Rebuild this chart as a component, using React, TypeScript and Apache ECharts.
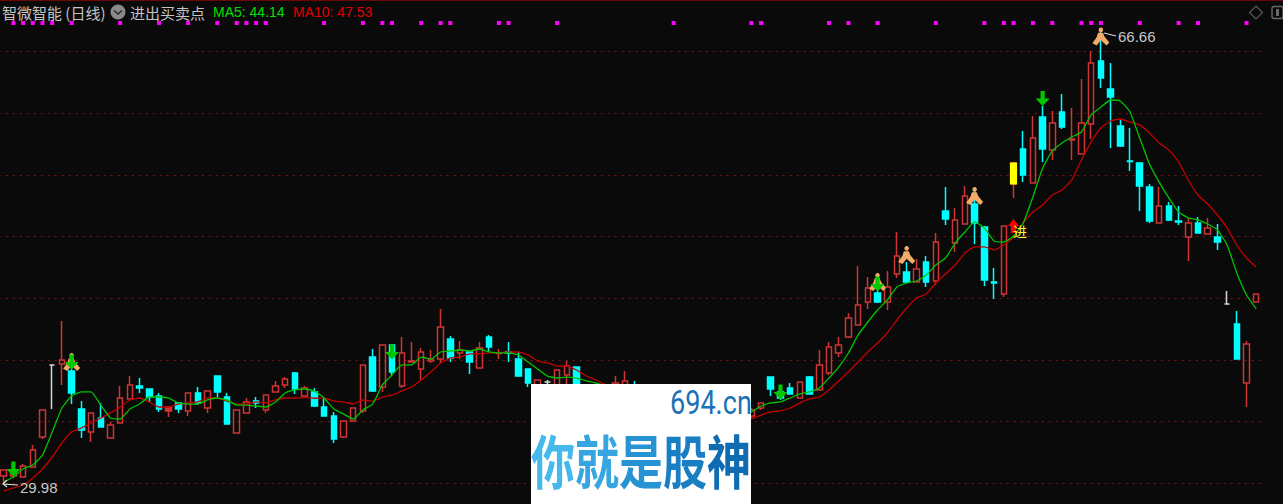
import React, { useEffect, useRef } from "react";
import * as echarts from "echarts";

const upper = [
  31.09,30.84,31.41,32.71,35.95,39.60,40.00,39.11,36.03,35.71,
  35.30,34.73,36.92,37.98,37.89,37.65,37.08,36.19,36.52,37.33,
  37.33,37.49,38.70,37.00,35.95,36.60,36.67,37.16,37.89,38.46,
  38.95,37.73,37.41,36.19,35.46,35.06,36.11,39.60,40.24,41.22,
  41.22,40.57,39.92,40.65,40.08,42.68,41.70,40.81,40.65,40.97,
  41.86,40.57,40.65,40.08,39.27,38.38,38.22,39.19,39.51,39.43,
  37.57,37.41,37.16,38.14,38.30,37.73,37.16,36.92,36.76,36.60,
  36.43,36.27,36.11,35.95,35.79,35.87,35.87,35.95,36.52,38.62,
  37.41,37.73,38.22,38.62,39.60,41.05,41.22,43.40,44.46,45.84,
  45.43,45.92,48.43,47.13,47.38,47.94,49.56,52.08,51.35,53.29,
  52.64,50.78,46.32,50.86,55.97,57.10,57.99,59.69,59.21,60.10,
  57.91,59.21,64.07,64.23,61.96,58.97,56.13,55.97,54.02,52.48,
  52.48,51.27,51.10,51.10,50.70,49.97,44.54,42.92,41.30,45.35,
];
const lower = [
  30.60,30.60,30.52,31.33,33.76,39.60,39.68,37.33,34.33,34.16,
  34.57,33.68,34.90,36.84,37.73,37.00,36.03,35.87,36.03,35.87,
  36.52,36.11,37.41,34.81,34.08,35.71,36.52,35.95,37.41,37.98,
  37.65,37.08,36.27,35.46,33.60,33.76,35.06,35.87,37.49,37.81,
  39.03,37.89,39.84,39.27,39.92,40.08,40.16,40.57,39.84,39.35,
  41.05,40.53,40.57,38.70,38.14,37.41,38.22,37.16,38.79,37.16,
  36.76,36.60,36.52,37.00,37.08,36.60,36.11,35.95,35.79,35.63,
  35.46,35.30,35.14,35.22,35.14,35.38,35.22,35.46,36.11,37.65,
  36.92,37.25,36.92,37.25,37.57,38.95,40.57,41.86,42.84,44.70,
  44.70,44.70,46.97,46.32,46.32,46.32,46.40,51.43,49.48,51.02,
  51.10,46.48,46.24,45.35,54.26,54.99,54.34,57.10,57.02,58.88,
  57.83,56.70,59.13,62.85,61.31,57.34,56.09,54.10,51.27,51.10,
  51.35,51.19,49.97,50.29,50.21,49.56,44.54,40.08,38.14,44.70,
];
const highs = [
  31.09,30.92,31.57,33.11,35.95,39.60,43.16,40.41,36.67,35.71,
  36.52,34.97,37.89,38.70,38.54,37.65,37.33,36.19,36.52,37.33,
  37.81,37.49,38.70,37.33,35.95,36.92,37.00,37.16,38.30,38.62,
  39.03,37.89,37.73,36.92,35.79,35.06,36.11,39.60,40.89,41.22,
  41.22,41.86,41.46,40.97,40.81,44.13,41.95,41.54,40.65,41.46,
  42.03,40.89,41.46,40.65,39.27,38.38,38.38,39.19,39.92,39.43,
  37.73,37.57,37.41,38.70,39.11,38.30,37.41,37.08,36.92,36.76,
  36.60,36.43,36.27,36.11,36.03,36.03,36.03,36.11,36.52,38.62,
  37.73,38.14,38.22,38.70,40.81,41.46,41.86,43.81,47.62,46.73,
  46.24,47.21,50.37,47.94,48.19,48.43,50.29,54.02,52.32,54.10,
  53.78,50.86,47.46,50.86,55.97,58.56,59.77,60.58,60.18,61.56,
  60.42,62.77,65.04,66.66,64.07,59.45,58.80,55.97,54.26,54.02,
  52.81,52.48,51.51,51.59,51.51,51.02,45.59,43.98,41.54,45.35,
];
const lows = [
  29.98,30.44,30.52,31.33,33.60,36.03,37.98,36.43,33.68,33.36,
  34.57,33.68,34.90,36.84,37.33,36.60,35.79,35.38,35.71,35.46,
  36.35,35.71,37.00,34.81,34.08,35.71,36.11,35.71,37.41,37.73,
  37.25,37.08,36.19,35.46,33.28,33.68,35.06,35.71,37.41,37.41,
  38.79,37.73,39.84,38.38,39.76,39.76,39.84,40.08,38.87,39.35,
  40.65,40.08,39.84,38.62,37.81,37.16,37.41,37.08,38.05,36.92,
  36.43,36.35,36.27,36.76,36.76,36.27,35.79,35.71,35.46,35.38,
  35.14,35.06,34.81,34.89,34.81,34.97,35.06,35.30,35.95,37.08,
  36.76,37.25,36.92,37.25,37.57,38.79,40.24,41.78,42.84,44.13,
  44.62,44.05,46.65,46.24,46.32,45.92,46.08,50.94,48.75,51.02,
  49.40,46.00,44.94,45.11,53.13,54.42,54.34,56.05,56.21,58.72,
  56.21,56.70,57.91,62.04,57.18,57.26,55.32,52.08,51.10,51.10,
  51.27,50.94,48.03,50.29,50.21,48.92,44.54,40.08,36.19,44.70,
];
const ma5 = [
  30.11,30.52,31.17,31.49,32.30,34.16,36.11,37.08,37.41,37.41,
  36.35,35.30,35.22,36.03,36.43,37.00,37.00,36.92,36.52,36.43,
  36.43,36.76,36.92,36.76,36.35,36.35,36.27,36.19,36.60,37.33,
  37.57,37.65,37.49,36.92,36.03,35.63,35.22,35.95,36.43,37.98,
  38.79,39.60,39.60,40.24,40.08,40.65,40.73,40.81,40.73,40.89,
  40.65,40.57,40.57,40.41,39.84,39.27,38.70,38.54,38.62,38.54,
  38.30,38.14,37.89,37.73,37.41,37.08,36.84,36.52,36.27,36.11,
  35.87,35.71,35.46,35.38,35.30,35.38,35.54,35.79,36.27,36.52,
  36.60,36.92,37.25,37.41,37.73,38.54,39.43,40.57,42.03,43.08,
  44.05,44.86,45.92,46.24,46.40,46.89,47.70,48.27,49.48,50.37,
  51.19,50.70,49.64,49.56,50.05,51.10,53.21,55.56,56.94,57.59,
  58.07,58.48,59.86,60.50,61.07,60.99,60.10,57.99,55.88,54.42,
  53.13,52.00,51.51,51.35,51.02,50.54,49.32,47.05,45.27,44.14,
];
const ma10 = [
  29.38,29.63,29.87,30.44,31.17,32.14,33.28,34.16,34.49,34.90,
  35.30,35.71,36.19,36.76,36.92,36.60,36.19,36.19,36.43,36.52,
  36.60,36.92,36.92,36.67,36.43,36.43,36.60,36.52,36.76,36.92,
  36.92,36.95,36.90,36.92,36.67,36.60,36.43,36.76,36.67,37.00,
  37.16,37.49,37.81,38.38,39.03,39.76,40.16,40.24,40.49,40.49,
  40.57,40.57,40.65,40.65,40.41,39.92,39.76,39.51,39.51,39.19,
  38.70,38.38,37.98,37.65,37.33,37.08,36.76,36.52,36.27,36.03,
  35.79,35.63,35.46,35.30,35.22,35.14,35.14,35.22,35.54,35.79,
  35.87,36.11,36.52,36.84,37.00,37.57,38.30,39.03,39.84,40.65,
  41.38,42.19,43.24,44.21,45.03,45.35,46.24,46.97,47.70,48.67,
  49.16,49.16,48.92,49.32,49.97,51.10,51.99,52.56,53.37,53.78,
  54.59,56.21,57.67,58.80,59.37,59.53,59.29,59.05,58.40,57.59,
  57.02,56.05,54.59,53.37,52.64,51.75,50.70,49.32,48.27,47.53,
];
const fallingDays = [7,8,10,14,15,16,18,20,22,23,26,30,32,33,34,38,40,46,48,50,52,53,54,59,60,61,65,66,68,70,72,75,79,80,81,83,90,93,95,97,100,101,102,105,107,109,113,114,115,116,117,118,120,121,123,125,127];
const whiteDays = [5,56,126];
const solidRedDays = [17];
const yellowDay = 104;
const magentaDays = [1,2,3,4,5,7,12,16,19,22,24,25,26,27,33,37,39,40,43,45,46,51,52,57,69,77,78,85,87,90,96,101,103,104,106,108,111,112,113,117,121,123,128];
const stripLevel = 67.31;
const buyArrows: [number, number][] = [[1,31.17],[7,39.84],[40,40.65],[80,37.41],[90,46.16],[107,61.19]];
const runners: [number, number][] = [[7,39.84],[90,46.32],[93,48.51],[100,53.29],[113,66.22]];
const entryArrows: [number, number][] = [[104,50.86]];
const logoChars = ["你", "就", "是", "股", "神"];
const logoColors = ["#45b9ec", "#36a5e0", "#2693d3", "#1a7fc2", "#0f6cb2"];

const RED = "#cf3535";
const CYAN = "#00ffff";
const ARROW_DOWN = "path://M3.5 0 H6.5 V6 H10 L5 12 L0 6 H3.5 Z";
const ARROW_UP = "path://M5 0 L10 6 H7.5 V12 H2.5 V6 H0 Z";
const RUNNER = "path://M12 0 A3.2 3.2 0 1 1 11.99 0 Z M8 7 L15 7 L17 12 L24 20 L20 24 L12 17 L6 24 L0 21 L6 13 Z";

export default function App() {
  const ref = useRef<HTMLDivElement>(null);
  useEffect(() => {
    document.body.style.margin = "0";
    document.body.style.background = "#0a0a0a";
    const chart = echarts.init(ref.current!, undefined, { renderer: "svg" });
    const falling = new Set(fallingDays);
    const candles = upper.map((u, i) => {
      const value = falling.has(i) ? [u, lower[i], lows[i], highs[i]] : [lower[i], u, lows[i], highs[i]];
      if (whiteDays.includes(i)) {
        return { value, itemStyle: { color: "#d8d8d8", color0: "#d8d8d8", borderColor: "#d8d8d8", borderColor0: "#d8d8d8" } };
      }
      if (solidRedDays.includes(i)) {
        return { value, itemStyle: { color: RED, color0: RED } };
      }
      return { value };
    });
    const yellowBody = upper.map((u, i) => (i === yellowDay ? [lower[i], u, lower[i], u] : ["-", "-", "-", "-"]));
    const ui = "'Noto Sans CJK SC','Liberation Sans',sans-serif";
    const latin = "'Liberation Sans',Arial,sans-serif";
    const txt = (x: number, y: number, text: string, fill: string, fontSize: number, fontFamily: string) => ({
      type: "text", x, y, z: 20, style: { text, fill, fontSize, fontFamily, verticalAlign: "middle" },
    });
    const scatter = (name: string, data: any[], symbol: string, symbolSize: any, color: string, z: number) => ({
      name, type: "scatter", data, symbol, symbolSize, z, silent: true, itemStyle: { color, opacity: 1 },
    });
    chart.setOption({
      animation: false,
      backgroundColor: "#0a0a0a",
      grid: { left: -1.2, top: -10.2, width: 1262.3, height: 555.3, containLabel: false, outerBoundsMode: "none" },
      xAxis: { type: "category", data: upper.map((_, i) => String(i)), boundaryGap: true, show: false },
      yAxis: {
        type: "value", min: 25, max: 70, interval: 5, position: "right",
        axisLine: { show: false }, axisTick: { show: false }, axisLabel: { show: false },
        splitLine: { show: true, lineStyle: { color: "#7c1616", width: 1, type: [2, 5] } },
      },
      series: [
        {
          name: "K", type: "candlestick", data: candles, barWidth: 6, z: 3,
          itemStyle: { color: "transparent", color0: CYAN, borderColor: RED, borderColor0: CYAN, borderWidth: 1.5 },
        },
        {
          name: "Y", type: "candlestick", data: yellowBody, barWidth: 7, z: 4,
          itemStyle: { color: "#ffff00", color0: "#ffff00", borderColor: "#ffff00", borderColor0: "#ffff00", borderWidth: 1 },
        },
        { name: "MA5", type: "line", data: ma5, showSymbol: false, smooth: 0.15, z: 6, lineStyle: { color: "#00c400", width: 1.3 } },
        { name: "MA10", type: "line", data: ma10, showSymbol: false, smooth: 0.15, z: 5, lineStyle: { color: "#c40000", width: 1.3 } },
        scatter("strip", magentaDays.map((d) => [d, stripLevel]), "rect", 4, "#ff00ff", 7),
        scatter("runner", runners, RUNNER, [17, 18], "#f0ac68", 8),
        scatter("buy", buyArrows, ARROW_DOWN, [14, 15], "#00c800", 9),
        scatter("entry", entryArrows, ARROW_UP, [11, 14], "#ff0000", 9),
      ],
      graphic: [
        { type: "line", z: 20, shape: { x1: 0, y1: 0.5, x2: 1283, y2: 0.5 }, style: { stroke: "#6a0808", lineWidth: 1 } },
        txt(2, 12, "智微智能 (日线)", "#c4c4c4", 15, ui),
        { type: "circle", z: 20, shape: { cx: 118, cy: 12, r: 7.5 }, style: { fill: "#8a8a8a" } },
        { type: "polyline", z: 21, shape: { points: [[114, 10.5], [118, 14], [122, 10.5]] }, style: { stroke: "#2a2a2a", lineWidth: 1.6, fill: "none" } },
        txt(130, 12, "进出买卖点", "#c4c4c4", 15, ui),
        txt(213, 12, "MA5: 44.14", "#00e000", 14, latin),
        txt(293, 12, "MA10: 47.53", "#e00000", 14, latin),
        { type: "polygon", z: 20, shape: { points: [[1256, 6], [1262.5, 12.5], [1256, 19], [1249.5, 12.5]] }, style: { stroke: "#5a5a5a", lineWidth: 1.2, fill: "none" } },
        { type: "rect", z: 20, shape: { x: 1272, y: 6.5, width: 11, height: 12, r: 2 }, style: { stroke: "#6a6a6a", lineWidth: 1.4, fill: "none" } },
        { type: "rect", z: 20, shape: { x: 1276, y: 9, width: 3, height: 7 }, style: { fill: "#6a6a6a" } },
        txt(1118, 36, "66.66", "#c8c8c8", 15, latin),
        { type: "polyline", z: 20, shape: { points: [[1116, 36], [1104, 33]] }, style: { stroke: "#d8d8d8", lineWidth: 1.2, fill: "none" } },
        txt(20, 487, "29.98", "#c8c8c8", 15, latin),
        { type: "polyline", z: 20, shape: { points: [[18, 485], [3, 484], [7, 480], [3, 484], [7, 487]] }, style: { stroke: "#e0e0e0", lineWidth: 1.2, fill: "none" } },
        txt(1013, 231, "进", "#ffff30", 14, ui),
        { type: "rect", z: 100, shape: { x: 531, y: 384, width: 220, height: 120 }, style: { fill: "#ffffff" } },
        {
          type: "text", z: 101, x: 670, y: 403, scaleX: 0.82,
          style: { text: "694.cn", fill: "#1c70b6", fontSize: 33, fontFamily: "Roboto, sans-serif", verticalAlign: "middle" },
        },
        ...logoChars.map((ch, i) => ({
          type: "text", z: 101, x: 531 + i * 44, y: 459, scaleX: 0.76,
          style: { text: ch, fontSize: 58, fontWeight: 700, fontFamily: "'Noto Sans CJK SC'", verticalAlign: "middle", fill: logoColors[i] },
        })),
      ],
    });
    return () => chart.dispose();
  }, []);
  return <div ref={ref} style={{ width: 1283, height: 504, display: "block" }} />;
}
